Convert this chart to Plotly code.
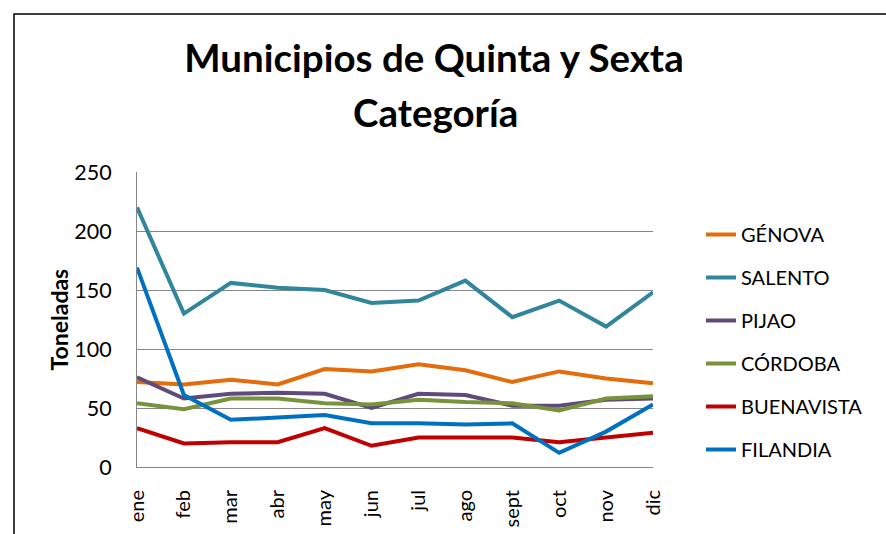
import plotly.graph_objects as go

months = ["ene", "feb", "mar", "abr", "may", "jun", "jul", "ago", "sept", "oct", "nov", "dic"]

genova = [72, 70, 74, 70, 83, 81, 87, 82, 72, 81, 75, 71]
salento = [220, 130, 156, 152, 150, 139, 141, 158, 127, 141, 119, 148]
pijao = [76, 58, 62, 63, 62, 50, 62, 61, 52, 52, 57, 58]
cordoba = [54, 49, 58, 58, 54, 53, 57, 55, 54, 48, 58, 60]
buenavista = [33, 20, 21, 21, 33, 18, 25, 25, 25, 21, 25, 29]
filandia = [169, 61, 40, 42, 44, 37, 37, 36, 37, 12, 30, 53]

series = [
    ("GÉNOVA", genova, "#E46C0A"),
    ("SALENTO", salento, "#31859C"),
    ("PIJAO", pijao, "#604A7B"),
    ("CÓRDOBA", cordoba, "#77933C"),
    ("BUENAVISTA", buenavista, "#C00000"),
    ("FILANDIA", filandia, "#0070C0"),
]

W, H = 886, 534
L, R, T, B = 137, 233, 172, 67
PW, PH = W - L - R, H - T - B

fig = go.Figure()
for i, (name, vals, col) in enumerate(series):
    fig.add_trace(go.Scatter(
        x=list(range(len(months))), y=vals, name=name, mode="lines",
        line=dict(color=col, width=4), legendgroup=f"g{i}",
    ))

FONT = "Lato"
fig.update_layout(
    width=W, height=H,
    margin=dict(l=L, r=R, t=T, b=B, autoexpand=False),
    paper_bgcolor="white", plot_bgcolor="white",
    font=dict(family=FONT, color="#000000", size=20),
    title=dict(
        text="<b>Municipios de Quinta y Sexta</b>",
        x=434 / W, xanchor="center", xref="container",
        y=1 - 72 / H, yanchor="bottom", yref="container",
        font=dict(family=FONT, size=38.5, color="#000000"),
    ),
    xaxis=dict(
        range=[0, len(months) - 1],
        tickmode="array", tickvals=list(range(len(months))), ticktext=months,
        tickangle=-90, showgrid=False, zeroline=False,
        showline=True, linecolor="#868686", linewidth=1,
        ticklabelstandoff=14, automargin=False,
        tickfont=dict(family=FONT, size=20),
    ),
    yaxis=dict(
        range=[0, 250], tickvals=[0, 50, 100, 150, 200, 250],
        showgrid=True, gridcolor="#868686", gridwidth=1, zeroline=False,
        showline=True, linecolor="#868686", linewidth=1,
        ticklabelstandoff=20, automargin=False,
        tickfont=dict(family=FONT, size=21.5),
    ),
    legend=dict(
        x=(701 - L) / PW, xanchor="left", y=(H - B - 215) / PH, yanchor="top",
        traceorder="grouped", tracegroupgap=14,
        font=dict(family=FONT, size=20),
        bgcolor="rgba(0,0,0,0)",
    ),
    showlegend=True,
)

fig.add_annotation(
    text="<b>Categoría</b>",
    xref="paper", yref="paper", x=(435 - L) / PW, y=(H - B - 128) / PH,
    xanchor="center", yanchor="bottom", showarrow=False,
    font=dict(family=FONT, size=38.5), yshift=-9,
)

fig.add_annotation(
    text="<b>Toneladas</b>", textangle=-90,
    xref="paper", yref="paper", x=(58 - L) / PW, y=0.5,
    xanchor="center", yanchor="middle", showarrow=False,
    font=dict(family=FONT, size=23),
)

fig.add_shape(
    type="rect", xref="paper", yref="paper",
    x0=(14 - L) / PW, x1=(W + 20 - L) / PW,
    y0=(H - B - (H + 20)) / PH, y1=(H - B - 14) / PH,
    line=dict(color="#000000", width=1.5), fillcolor="rgba(0,0,0,0)",
    layer="below",
)

fig.write_html(
    "out.html",
    config={"displayModeBar": False},
    post_script="document.body.style.margin='0';document.body.style.overflow='hidden';",
)
